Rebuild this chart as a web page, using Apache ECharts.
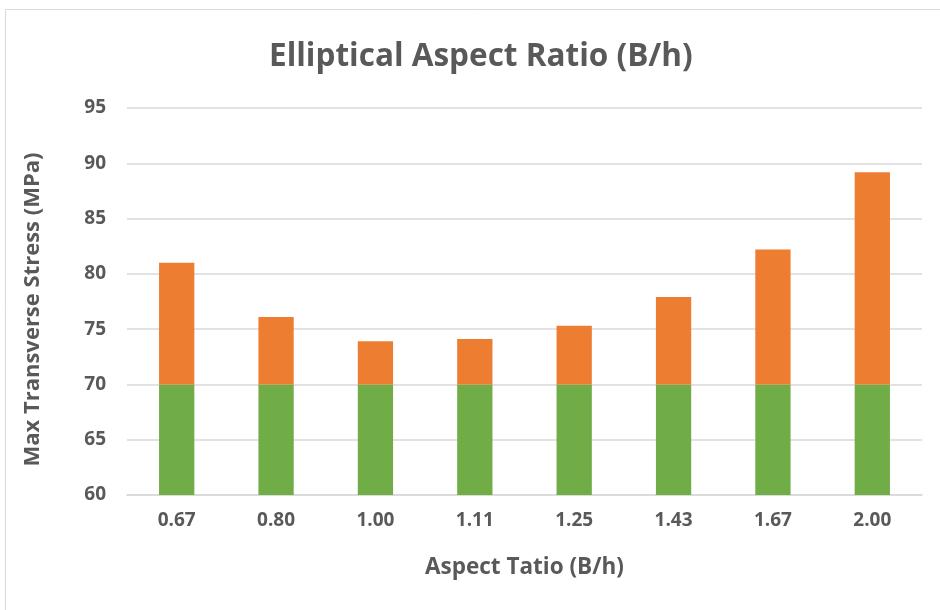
<!DOCTYPE html>
<html>
<head>
<meta charset="utf-8">
<script src="https://cdn.jsdelivr.net/npm/echarts@6/dist/echarts.min.js"></script>
<style>html,body{margin:0;padding:0;background:#fff}#c{width:940px;height:610px}</style>
</head>
<body>
<div id="c"></div>
<script>
const categories = ['0.67', '0.80', '1.00', '1.11', '1.25', '1.43', '1.67', '2.00'];
const baseValues = [70, 70, 70, 70, 70, 70, 70, 70];
const totalValues = [81.0, 76.1, 73.9, 74.1, 75.3, 77.9, 82.2, 89.2];
const extraValues = totalValues.map((v, i) => +(v - baseValues[i]).toFixed(2));
const yTicks = [60, 65, 70, 75, 80, 85, 90, 95];

const font = '"Open Sans", sans-serif';
const textColor = '#595959';
const chart = echarts.init(document.getElementById('c'), null, {renderer: 'canvas'});
chart.setOption({
  animation: false,
  backgroundColor: '#fff',
  graphic: [{
    type: 'rect', shape: {x: 5.5, y: 9.5, width: 960, height: 620},
    style: {fill: 'none', stroke: '#D9D9D9', lineWidth: 1}, silent: true
  }],
  title: {
    text: 'Elliptical Aspect Ratio (B/h)',
    left: 264, top: 36,
    textStyle: {fontFamily: font, fontWeight: 'bold', fontSize: 31.5, color: textColor}
  },
  grid: {left: 127, right: 18, top: 108, bottom: 115},
  xAxis: {
    type: 'category', data: categories,
    name: 'Aspect Tatio (B/h)', nameLocation: 'middle', nameGap: 61,
    nameTextStyle: {fontFamily: font, fontWeight: 'bold', fontSize: 22.5, color: textColor},
    axisLine: {lineStyle: {color: '#D9D9D9', width: 1.5}},
    axisTick: {show: false},
    axisLabel: {fontFamily: font, fontWeight: 'bold', fontSize: 19, color: textColor, margin: 16}
  },
  yAxis: {
    type: 'value', min: yTicks[0], max: yTicks[yTicks.length - 1], interval: 5,
    name: 'Max Transverse Stress (MPa)', nameLocation: 'middle', nameGap: 83,
    nameTextStyle: {fontFamily: font, fontWeight: 'bold', fontSize: 22, color: textColor, padding: [0, 16, 0, 0]},
    axisLine: {show: false}, axisTick: {show: false},
    axisLabel: {fontFamily: font, fontWeight: 'bold', fontSize: 19, color: textColor, margin: 21},
    splitLine: {lineStyle: {color: '#D9D9D9', width: 1.5}}
  },
  series: [
    {type: 'bar', stack: 's', data: baseValues, barWidth: '35.5%', itemStyle: {color: '#70AD47'}},
    {type: 'bar', stack: 's', data: extraValues, barWidth: '35.5%', itemStyle: {color: '#ED7D31'}}
  ]
});
</script>
</body>
</html>
